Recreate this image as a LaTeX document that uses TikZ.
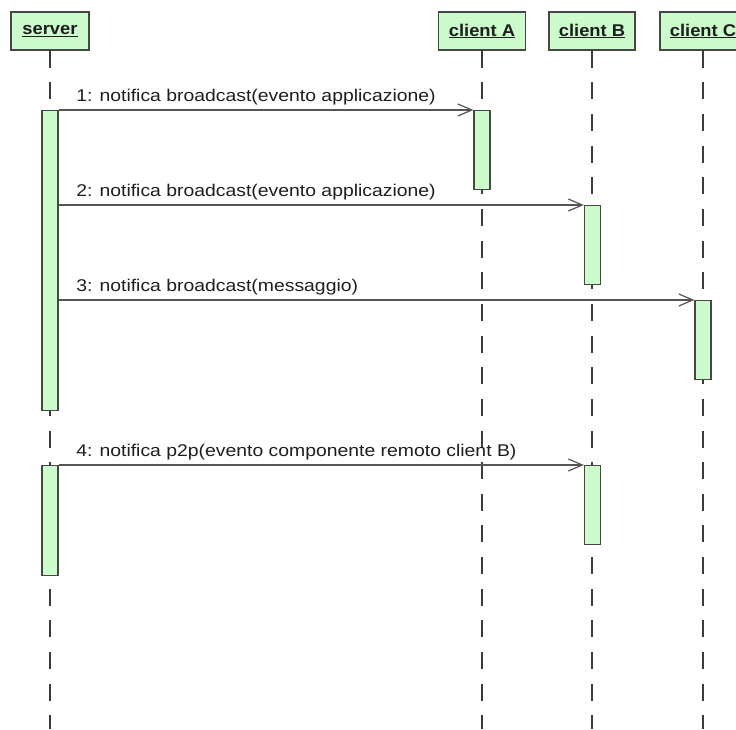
\documentclass[tikz,border=0pt]{standalone}
\usepackage{fontspec}
\setmainfont{Liberation Sans}[FakeStretch=1.14]
\newfontfamily\headfont{Liberation Sans}[FakeStretch=1.08]
\usetikzlibrary{arrows.meta}

\definecolor{actfill}{RGB}{204,252,204}
\definecolor{edge}{RGB}{70,70,70}
\definecolor{msgline}{RGB}{85,85,85}
\definecolor{ink}{RGB}{30,30,30}

\tikzset{
  header/.style={draw=edge, line width=1.4pt, fill=actfill, minimum height=38pt,
    inner sep=0pt, font=\headfont\bfseries\fontsize{17}{19}\selectfont, text=ink},
  lifeline/.style={draw=edge!85!black, line width=1.4pt, dash pattern=on 17pt off 14.65pt},
  actbar/.style={draw=edge, line width=1.3pt, fill=actfill, minimum width=16pt, inner sep=0pt},
  msg/.style={draw=msgline, line width=1.2pt,
    -{Straight Barb[length=14pt, width=12pt, line width=1.2pt]}},
  msglabel/.style={font=\fontsize{17}{19}\selectfont, text=ink, anchor=base west, inner sep=0pt},
}

\begin{document}
\begin{tikzpicture}[x=1pt, y=-1pt]
  \useasboundingbox (0,0) rectangle (736,729);
  \clip (0,0) rectangle (736,729);

  % participants
  \node[header, minimum width=78pt] (server) at (50,31) {\underline{server}};
  \node[header, minimum width=87pt] (cA) at (482,31) {\underline{client A}};
  \node[header, minimum width=86pt] (cB) at (592,31) {\underline{client B}};
  \node[header, minimum width=86pt] (cC) at (703,31) {\underline{client C}};

  % lifelines
  \foreach \p in {server, cA, cB, cC}
    \draw[lifeline] (\p.south) -- (\p.south |- 0,729);

  % activation bars
  \node[actbar, minimum height=300pt, anchor=north] (s1) at (50,110) {};
  \node[actbar, minimum height=110pt, anchor=north] (s2) at (50,465) {};
  \node[actbar, minimum height=79pt, anchor=north] (a1) at (482,110) {};
  \node[actbar, minimum height=79pt, anchor=north] (b1) at (592.5,205) {};
  \node[actbar, minimum height=79pt, anchor=north] (c1) at (703,300) {};
  \node[actbar, minimum height=79pt, anchor=north] (b2) at (592.5,465) {};

  % messages
  \draw[msg] (a1.north west -| s1.east) -- (a1.north west)
    node[msglabel, pos=0, xshift=17pt, yshift=9pt] {1: notifica broadcast(evento applicazione)};
  \draw[msg] (b1.north west -| s1.east) -- (b1.north west)
    node[msglabel, pos=0, xshift=17pt, yshift=9pt] {2: notifica broadcast(evento applicazione)};
  \draw[msg] (c1.north west -| s1.east) -- (c1.north west)
    node[msglabel, pos=0, xshift=17pt, yshift=9pt] {3: notifica broadcast(messaggio)};
  \draw[msg] (b2.north west -| s2.east) -- (b2.north west)
    node[msglabel, pos=0, xshift=17pt, yshift=9pt] {4: notifica p2p(evento componente remoto client B)};
\end{tikzpicture}
\end{document}
